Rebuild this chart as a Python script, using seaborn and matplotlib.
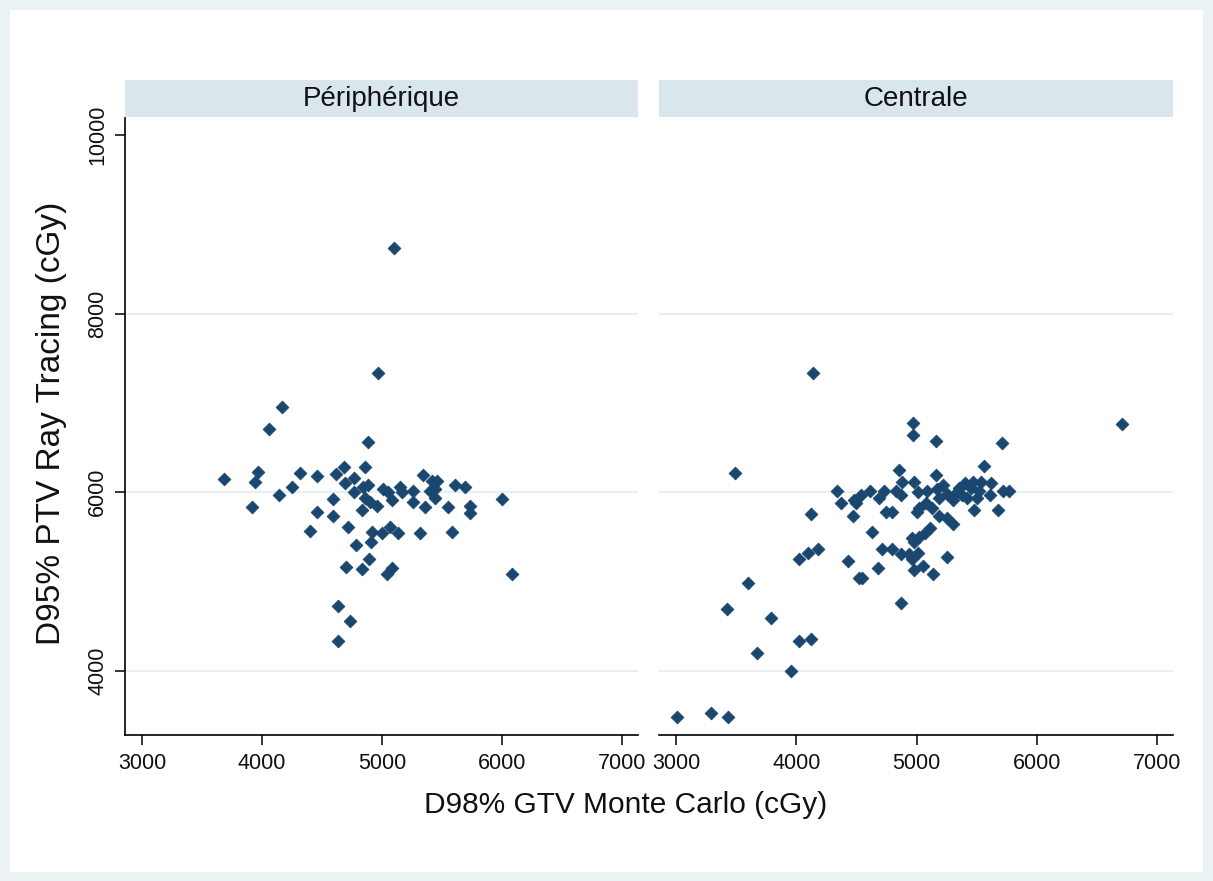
import matplotlib
matplotlib.use("Agg")
import matplotlib.pyplot as plt
import matplotlib.patches as mpatches
import numpy as np
import pandas as pd
import seaborn as sns

# Dose pairs (cGy): D98% GTV Monte Carlo vs D95% PTV Ray Tracing
periph_x = [3680, 3920, 3940, 3970, 4060, 4170, 4140, 4250, 4320, 4460,
            4400, 4460, 4590, 4590, 4630, 4730, 4630, 4720, 4780, 4620,
            4680, 4690, 4770, 4770, 4840, 4880, 4860, 4830, 4900, 4960,
            4860, 4880, 4970, 5100, 5010, 5050, 5080, 5150, 5170, 5260,
            5260, 5360, 5340, 5420, 5400, 5460, 5440, 5440, 5610, 5690,
            5550, 5730, 5730, 6000, 6080, 4920, 4910, 5000, 5070, 5130,
            5320, 5580, 4890, 4830, 4700, 5040, 5080]
periph_y = [6150, 5830, 6110, 6230, 6710, 6960, 5970, 6060, 6220, 6180,
            5570, 5780, 5930, 5730, 4730, 4560, 4340, 5610, 5410, 6200,
            6280, 6100, 6160, 6000, 6060, 6080, 5940, 5800, 5890, 5850,
            6280, 6560, 7340, 8730, 6040, 6000, 5910, 6060, 6000, 6020,
            5890, 5830, 6190, 6130, 6020, 6130, 6040, 5940, 6080, 6060,
            5830, 5850, 5770, 5930, 5080, 5550, 5440, 5540, 5610, 5540,
            5540, 5550, 5250, 5140, 5160, 5090, 5150]

central_x = [4140, 3490, 4340, 4370, 4500, 4470, 4120, 4020, 4100, 4180,
             4430, 4520, 3600, 3420, 3790, 4020, 4120, 3670, 3960, 3010,
             3290, 3430, 4970, 4970, 5160, 5710, 5560, 4850, 5160, 4480,
             4540, 4610, 4690, 4730, 4830, 4880, 4870, 4980, 5010, 5090,
             5170, 5220, 5190, 5300, 5330, 5400, 5470, 5540, 5620, 5420,
             5500, 5610, 5720, 5770, 5480, 5680, 5020, 5080, 5130, 5190,
             5250, 5300, 5000, 4750, 4800, 4630, 5110, 5070, 5020, 4960,
             4980, 4710, 4800, 4870, 4940, 5010, 4960, 5250, 4550, 4680,
             4980, 5050, 5140, 4870, 6710, 5350, 5450, 5520, 5380, 5250]
central_y = [7340, 6220, 6010, 5880, 5880, 5730, 5760, 5250, 5320, 5360,
             5230, 5040, 4990, 4690, 4590, 4340, 4360, 4200, 4000, 3480,
             3530, 3480, 6780, 6640, 6570, 6550, 6290, 6250, 6190, 5910,
             5970, 6020, 5940, 6020, 6020, 6110, 5970, 6110, 6000, 6020,
             6040, 6080, 5940, 5910, 5990, 6100, 6110, 6110, 6100, 5940,
             5940, 5970, 6010, 6010, 5800, 5800, 5820, 5880, 5820, 5740,
             5710, 5650, 5780, 5780, 5780, 5550, 5600, 5540, 5500, 5490,
             5440, 5370, 5370, 5310, 5310, 5320, 5250, 5280, 5040, 5150,
             5130, 5180, 5090, 4760, 6770, 6050, 6050, 6020, 5970, 5980]

panels = ["Périphérique", "Centrale"]
x_ticks = [3000, 4000, 5000, 6000, 7000]
y_ticks = [4000, 6000, 8000, 10000]
x_title = "D98% GTV Monte Carlo (cGy)"
y_title = "D95% PTV Ray Tracing (cGy)"

df = pd.DataFrame({
    "gtv": periph_x + central_x,
    "ptv": periph_y + central_y,
    "site": [panels[0]] * len(periph_x) + [panels[1]] * len(central_x),
})

sns.set_theme(style="white")
plt.rcParams["font.family"] = ["Liberation Sans", "DejaVu Sans"]

MARK = "#1a476f"
GRID = "#e6eff1"
STRIP = "#d9e6eb"
OUTER = "#eaf2f3"

W, H = 1213, 881
fig = plt.figure(figsize=(W / 100, H / 100), dpi=100, facecolor=OUTER)
# white graph region inside a thin tinted frame
fig.patches.append(mpatches.Rectangle((10 / W, 9 / H), 1193 / W, 862 / H,
                                      transform=fig.transFigure,
                                      facecolor="white", edgecolor="none",
                                      zorder=-10))

def fx(px):
    return px / W

def fy(py):
    return 1 - py / H

left_edges = [(125, 638), (659, 1173)]
top, bottom = 118, 735

for i, (name, (x0, x1)) in enumerate(zip(panels, left_edges)):
    ax = fig.add_axes([fx(x0), fy(bottom), fx(x1 - x0), (bottom - top) / H])
    ax.set_facecolor("white")
    for yv in y_ticks[:-1]:
        ax.axhline(yv, color=GRID, lw=1.6, zorder=0)
    sub = df[df["site"] == name]
    sns.scatterplot(data=sub, x="gtv", y="ptv", ax=ax, marker="D", s=42,
                    color=MARK, edgecolor=MARK, linewidth=0.6, zorder=3)
    ax.set_xlim(2858, 7133)
    ax.set_ylim(3283, 10190)
    ax.set_xticks(x_ticks)
    ax.set_xticklabels([str(v) for v in x_ticks], fontsize=15.5)
    ax.set_xlabel("")
    ax.set_ylabel("")
    for s in ["top", "right"]:
        ax.spines[s].set_visible(False)
    ax.spines["bottom"].set_color("black")
    ax.spines["bottom"].set_linewidth(1.2)
    ax.tick_params(axis="x", direction="out", length=7, width=1.1,
                   color="black", pad=6, bottom=True, labelcolor="#111111")
    if i == 0:
        ax.spines["left"].set_color("black")
        ax.spines["left"].set_linewidth(1.2)
        ax.set_yticks(y_ticks)
        ax.set_yticklabels([str(v) for v in y_ticks], fontsize=15.5,
                           rotation=90, va="center")
        ax.tick_params(axis="y", direction="out", length=7, width=1.1,
                       color="black", pad=5, left=True, labelcolor="#111111")
    else:
        ax.spines["left"].set_visible(False)
        ax.set_yticks(y_ticks)
        ax.tick_params(axis="y", left=False, labelleft=False)

    # facet header strip
    sax = fig.add_axes([fx(x0), fy(117), fx(x1 - x0), 37 / H])
    sax.set_facecolor(STRIP)
    sax.set_xticks([])
    sax.set_yticks([])
    for s in sax.spines.values():
        s.set_visible(False)
    sax.text(0.5, 0.5, name, ha="center", va="center", fontsize=20,
             color="#111111", transform=sax.transAxes)

fig.text(fx(626), fy(805), x_title, ha="center", va="center", fontsize=21.5,
         color="#111111")
fig.text(fx(52), fy(423), y_title, ha="center", va="center", fontsize=24,
         rotation=90, color="#111111")

fig.savefig("out.png", dpi=100, facecolor=OUTER)
